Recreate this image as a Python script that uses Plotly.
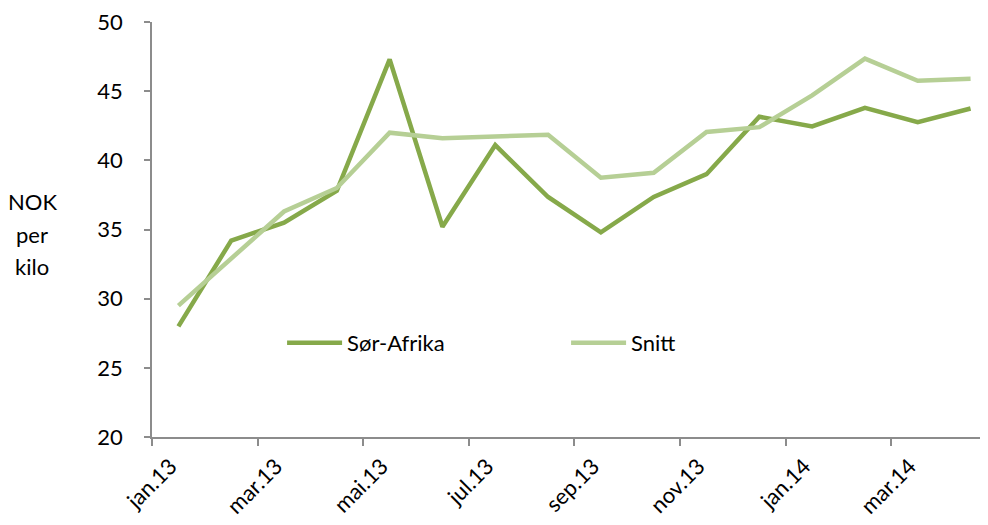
import plotly.graph_objects as go

months = ["jan.13", "feb.13", "mar.13", "apr.13", "mai.13", "jun.13", "jul.13", "aug.13",
          "sep.13", "okt.13", "nov.13", "des.13", "jan.14", "feb.14", "mar.14", "apr.14"]
sor_afrika = [28.0, 34.2, 35.5, 37.8, 47.3, 35.2, 41.1, 37.35, 34.8, 37.35, 39.0, 43.15, 42.45, 43.8, 42.75, 43.75]
snitt = [29.5, 32.9, 36.3, 38.0, 42.0, 41.6, 41.75, 41.85, 38.75, 39.1, 42.05, 42.4, 44.7, 47.35, 45.75, 45.9]
y_ticks = [20, 25, 30, 35, 40, 45, 50]
y_title_lines = ["NOK", "per", "kilo"]

x = list(range(len(months)))
label_idx = x[::2]

FONT = "Lato, 'Open Sans', sans-serif"
AXIS_GREY = "#8c8c8c"

fig = go.Figure()
fig.add_trace(go.Scatter(x=x, y=sor_afrika, mode="lines", name="Sør-Afrika",
                         line=dict(color="#86a94a", width=4.5)))
fig.add_trace(go.Scatter(x=x, y=snitt, mode="lines", name="Snitt",
                         line=dict(color="#b6cf95", width=4.5)))

title_y = [0.567, 0.489, 0.4106]
annotations = [dict(text=t, xref="paper", yref="paper", x=-0.1433, y=yy,
                    xanchor="center", yanchor="middle", showarrow=False,
                    font=dict(size=22))
               for t, yy in zip(y_title_lines, title_y)]

fig.update_layout(
    width=988, height=525,
    margin=dict(l=144, r=8, t=14, b=96, autoexpand=False),
    paper_bgcolor="white", plot_bgcolor="white",
    font=dict(family=FONT, size=22, color="#000000"),
    showlegend=True,
    legend=dict(orientation="h", x=0.1556, y=0.2265, xanchor="left", yanchor="middle",
                bgcolor="rgba(0,0,0,0)", font=dict(size=22),
                entrywidth=214, entrywidthmode="pixels", itemwidth=55),
    annotations=annotations,
)
fig.update_xaxes(
    range=[-0.5, 15.33], showgrid=False, zeroline=False, automargin=False,
    showline=True, linecolor=AXIS_GREY, linewidth=1.5,
    tickmode="array", tickvals=[i - 0.15 for i in label_idx],
    ticktext=[months[i] for i in label_idx],
    ticks="", tickangle=-45, ticklabelstandoff=6,
    minor=dict(tickmode="array", tickvals=[i - 0.5 for i in label_idx],
               ticks="outside", ticklen=7, tickcolor=AXIS_GREY, tickwidth=1.5, showgrid=False),
)
fig.update_yaxes(
    range=[20, 50], tickvals=y_ticks, showgrid=False, zeroline=False, automargin=False,
    showline=True, linecolor=AXIS_GREY, linewidth=1.5, ticklabeloverflow="allow",
    ticks="outside", ticklen=6, tickcolor=AXIS_GREY, tickwidth=1.5, ticklabelstandoff=17,
)

fig.write_html("out.html")
